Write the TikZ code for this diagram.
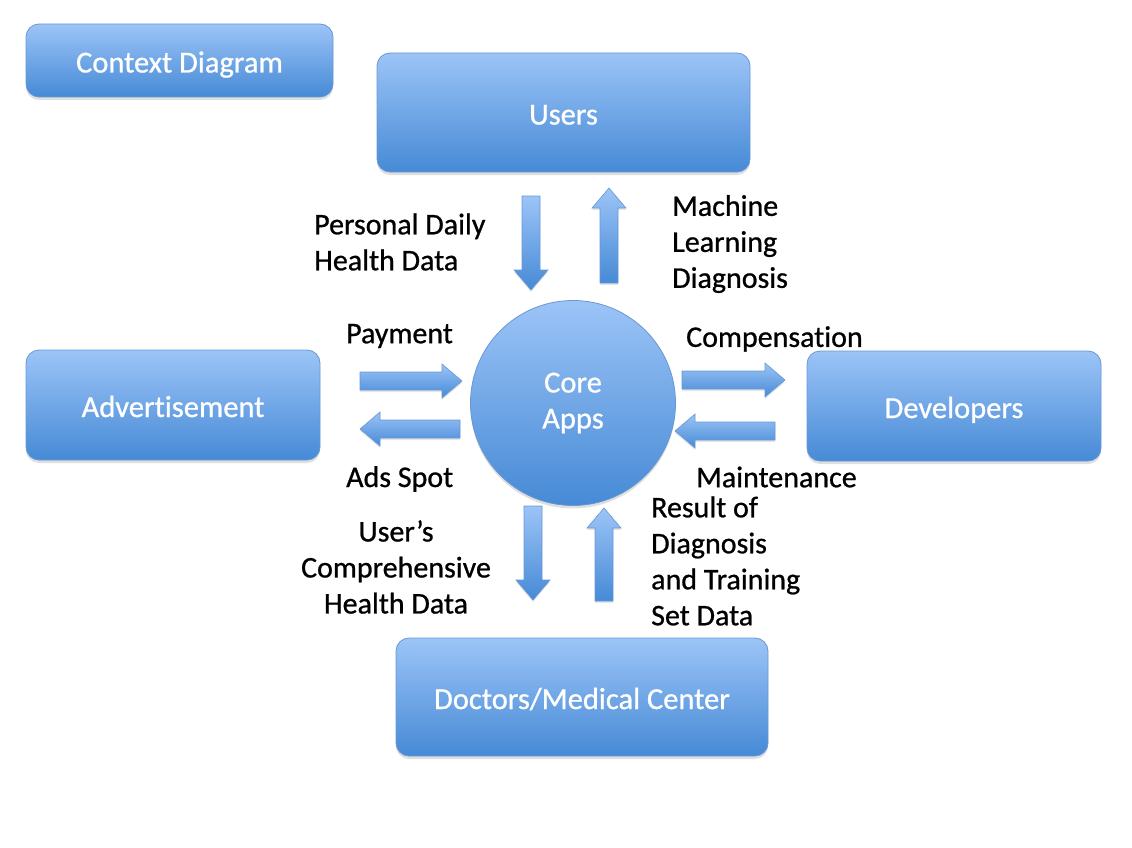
\documentclass[tikz,border=0pt]{standalone}
\usepackage{fontspec}
\setmainfont{Carlito}[Ligatures=NoCommon, FakeBold=0.8]
\usetikzlibrary{shadows}
\definecolor{btop}{RGB}{156,196,247}
\definecolor{bbot}{RGB}{70,138,214}
\definecolor{bline}{RGB}{104,152,212}
\tikzset{
  box/.style={rounded corners=13pt, top color=btop, bottom color=bbot, draw=bline, line width=0.8pt,
    text=white, font=\fontsize{30.5}{36}\selectfont, align=center, text height=24pt, text depth=0pt,
    drop shadow={shadow xshift=0pt, shadow yshift=-3pt, opacity=0.25}},
  core/.style={circle, top color=btop, bottom color=bbot, draw=bline, line width=0.8pt,
    text=white, font=\fontsize{30.5}{36}\selectfont, align=center, minimum size=205pt, inner sep=0pt,
    drop shadow={shadow xshift=0pt, shadow yshift=-3pt, opacity=0.25}},
  barrow/.style={top color=btop, bottom color=bbot, draw=bline, line width=0.6pt, line join=miter,
    drop shadow={shadow xshift=0pt, shadow yshift=-2pt, opacity=0.2}},
  lbl/.style={font=\fontsize{30}{36}\selectfont, text=black, inner sep=0pt}
}
\newcommand\rarrow[3]{\path[barrow] (#1,#3-9) -- (#2-20,#3-9) -- (#2-20,#3-17) -- (#2,#3) -- (#2-20,#3+17) -- (#2-20,#3+9) -- (#1,#3+9) -- cycle;}
\newcommand\larrow[3]{\path[barrow] (#2,#3-9) -- (#1+20,#3-9) -- (#1+20,#3-17) -- (#1,#3) -- (#1+20,#3+17) -- (#1+20,#3+9) -- (#2,#3+9) -- cycle;}
\newcommand\darrow[3]{\path[barrow] (#1-9,#2) -- (#1+9,#2) -- (#1+9,#3-20) -- (#1+17,#3-20) -- (#1,#3) -- (#1-17,#3-20) -- (#1-9,#3-20) -- cycle;}
\newcommand\uarrow[3]{\path[barrow] (#1-9,#3) -- (#1+9,#3) -- (#1+9,#2+20) -- (#1+17,#2+20) -- (#1,#2) -- (#1-17,#2+20) -- (#1-9,#2+20) -- cycle;}
\begin{document}
\begin{tikzpicture}[x=1pt,y=-1pt]
\useasboundingbox (0,0) rectangle (1132,848);
% boxes
\node[box, minimum width=307pt, minimum height=73pt] (ctx) at (179.5,60.5) {Context Diagram};
\node[box, minimum width=373pt, minimum height=119pt] (users) at (563.5,112.5) {Users};
\node[box, minimum width=294pt, minimum height=110pt] (adv) at (173,405) {Advertisement};
\node[box, minimum width=294pt, minimum height=110pt] (dev) at (954,406) {Developers};
\node[box, minimum width=372pt, minimum height=118pt] (doc) at (582,697) {Doctors/Medical Center};
\node[core] (core) at (573,403) {\raisebox{-2pt}{Core}\\\raisebox{-2pt}{Apps}};
% block arrows
\darrow{531}{196}{290}
\uarrow{609}{188}{283}
\rarrow{360}{462}{381}
\larrow{360}{460}{429}
\rarrow{682}{785}{380}
\larrow{675}{775}{431}
\darrow{533}{506}{600}
\uarrow{604}{508}{601}
% labels
\node[lbl, align=left, anchor=west] (l1) at (314,242) {Personal Daily\\Health Data};
\node[lbl, align=left, anchor=west] (l2) at (672,244) {Machine\\Learning\\Diagnosis};
\node[lbl, anchor=west] (l3) at (346,336) {Payment};
\node[lbl, anchor=west] (l4) at (686,339) {Compensation};
\node[lbl, anchor=west] (l5) at (346,479) {Ads Spot};
\node[lbl, anchor=west] (l6) at (696,477) {Maintenance};
\node[lbl, align=center] (l7) at (396,567) {User’s\\Comprehensive\\Health Data};
\node[lbl, align=left, anchor=west] (l8) at (651,561) {Result of\\Diagnosis\\and Training\\Set Data};
\end{tikzpicture}
\end{document}
